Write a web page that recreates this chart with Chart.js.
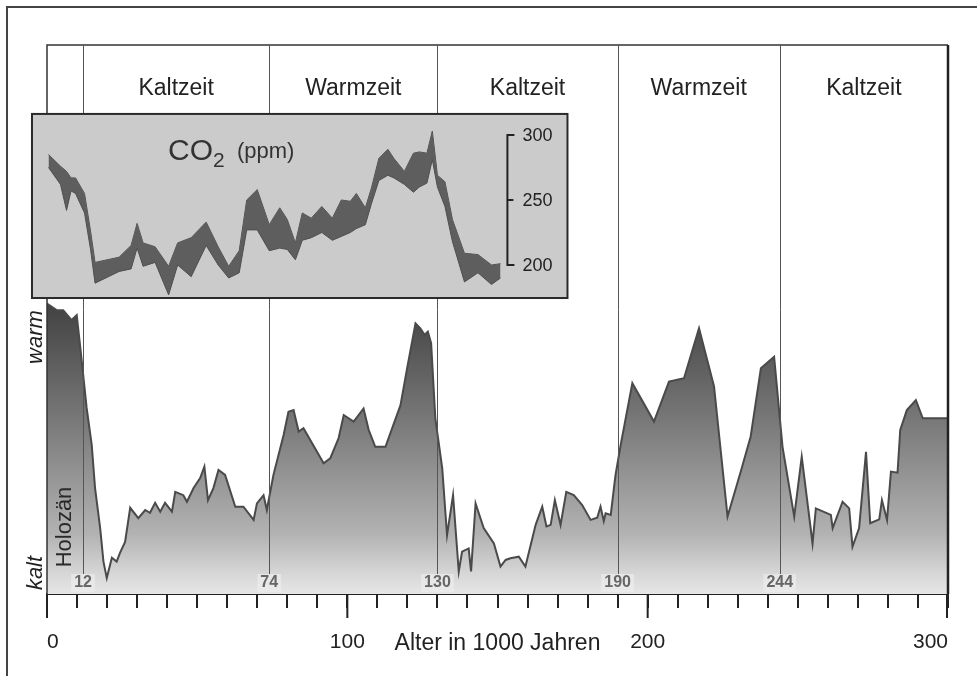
<!DOCTYPE html>
<html lang="de">
<head>
<meta charset="utf-8">
<title>Temperatur und CO2 – 300 000 Jahre</title>
<script src="https://cdn.jsdelivr.net/npm/chart.js@4"></script>
<style>
  html, body { margin: 0; padding: 0; background: #fff; overflow: hidden; }
  canvas { display: block; }
</style>
</head>
<body>
<canvas id="climateChart" width="977" height="676"></canvas>
<script>
// Alter in 1000 Jahren / relativer Temperaturindex (0 = kalt, 100 = oberer Rand)
const tempAge = [
  0, 3.2, 5.4, 8.2, 9.9, 11.6, 13.2, 14.9, 16, 17.7,
  18.8, 19.9, 21.6, 23.2, 24.3, 26, 27.7, 30.4, 32.7, 34.3,
  36, 37.7, 39.3, 41.6, 42.7, 45.4, 46.6, 48.8, 51, 52.4,
  53.6, 55.4, 57.1, 59.3, 62.7, 65.4, 68.8, 69.9, 72.1, 73.2,
  75.4, 78.8, 80.4, 82.1, 83.8, 85.4, 92.1, 94.3, 97.1, 98.8,
  102.1, 105.4, 107.1, 109.3, 112.7, 117.7, 119.9, 122.7, 124.3, 125.7,
  126.8, 127.9, 129.3, 131.6, 133.2, 135.2, 137.1, 138.2, 140.4, 141.2,
  142.7, 145.4, 148.8, 151, 152.7, 154.3, 157.1, 159.3, 162.7, 164.9,
  166.3, 167.7, 169.1, 171, 172.9, 175.4, 178.2, 181, 183.2, 184.3,
  185.4, 186, 187.7, 189.3, 191, 194.9, 202.1, 207.1, 212.1, 217.1,
  222.1, 226.6, 231, 234.3, 237.7, 242.1, 244.9, 248.8, 251.3, 254.9,
  256, 261, 261.6, 264.9, 267.1, 268.2, 270.4, 272.7, 274.1, 277.1,
  278, 279.7, 281, 283.2, 284.1, 286.3, 289.3, 291.6, 300,
];
const tempIndex = [
  52.9, 51.7, 51.7, 49.9, 50.8, 42.3, 33.9, 27.1, 19.3, 12.0,
  5.9, 2.9, 6.6, 5.9, 7.5, 9.5, 15.7, 13.8, 15.3, 14.8,
  16.6, 15.0, 16.6, 15.0, 18.6, 18.0, 16.8, 19.3, 21.1, 23.2,
  17.1, 19.3, 22.6, 21.7, 15.9, 15.9, 13.5, 16.5, 18.0, 15.3,
  21.7, 29.0, 33.2, 33.5, 29.6, 30.2, 23.8, 24.7, 28.4, 32.6,
  31.4, 33.8, 29.9, 26.8, 26.8, 34.4, 41.1, 49.3, 48.4, 47.2,
  47.8, 45.7, 32.0, 22.9, 10.7, 18.0, 4.1, 7.7, 8.3, 4.1,
  16.5, 12.0, 9.2, 5.0, 6.2, 6.5, 6.8, 5.0, 12.6, 15.9,
  12.3, 12.6, 17.1, 12.6, 18.6, 18.0, 16.2, 13.5, 13.9, 15.9,
  13.3, 14.7, 14.4, 21.7, 27.1, 38.4, 31.4, 38.7, 39.3, 48.4,
  37.8, 14.1, 22.3, 28.7, 41.1, 43.2, 26.8, 14.1, 25.0, 9.2,
  15.6, 14.4, 12.0, 16.8, 15.6, 8.6, 12.0, 25.9, 12.9, 13.6,
  17.1, 13.5, 22.3, 22.1, 29.9, 33.5, 35.3, 32.0, 32.0,
];

// CO2-Band (ppm): obere und untere Grenze
const co2Age = [
  0.5, 4.5, 6.5, 8, 9.5, 12.5, 14.5, 16, 24, 28,
  30, 32, 36, 40.5, 43.5, 48, 53, 57, 60.5, 64,
  66.5, 70, 74, 77.5, 80, 82.7, 85, 88, 91.5, 95,
  98, 101, 103, 106, 108, 110.5, 113.5, 115.5, 119, 122,
  124, 126.5, 128.3, 130, 132.5, 135, 139, 143.5, 148, 151,
];
const co2High = [
  285, 276, 272, 267, 267, 255, 226, 202, 206, 215,
  232, 217, 214, 199, 217, 221, 233, 214, 199, 211,
  250, 258, 231, 244, 235, 217, 240, 236, 245, 236,
  250, 249, 255, 244, 259, 282, 289, 282, 272, 286,
  287, 286, 303, 269, 264, 235, 209, 208, 200, 201,
];
const co2Low = [
  275, 262, 242, 257, 255, 240, 212, 186, 195, 197,
  213, 199, 202, 177, 200, 191, 215, 200, 190, 194,
  227, 227, 211, 213, 212, 204, 219, 221, 225, 219,
  222, 225, 228, 231, 247, 265, 269, 267, 262, 256,
  260, 263, 281, 260, 245, 218, 187, 194, 185, 190,
];

const periodBounds = [12, 74, 130, 190, 244, 300];
const periodNames = ["Kaltzeit", "Warmzeit", "Kaltzeit", "Warmzeit", "Kaltzeit"];
const xTickLabels = [0, 100, 200, 300];
const co2Ticks = [200, 250, 300];

const FONT = '"Liberation Sans", Arial, Helvetica, sans-serif';

document.addEventListener("DOMContentLoaded", () => {
  const toPoints = (xs, ys) => xs.map((x, i) => ({ x: x, y: ys[i] }));

  // Verlauf dunkel (warm) -> hell (kalt)
  const tempFill = (context) => {
    const chart = context.chart;
    const area = chart.chartArea;
    if (!area) return "#888";
    const top = chart.scales.y.getPixelForValue(55);
    const g = chart.ctx.createLinearGradient(0, top, 0, area.bottom);
    g.addColorStop(0, "#3c3c3c");
    g.addColorStop(0.45, "#7c7c7c");
    g.addColorStop(0.8, "#b2b2b2");
    g.addColorStop(0.93, "#d6d6d6");
    g.addColorStop(1, "#e6e6e6");
    return g;
  };

  const decor = {
    id: "decor",
    beforeDraw(chart) {
      const ctx = chart.ctx;
      ctx.save();
      ctx.fillStyle = "#fff";
      ctx.fillRect(0, 0, chart.width, chart.height);
      ctx.strokeStyle = "#444";
      ctx.lineWidth = 2;
      ctx.strokeRect(7, 7, chart.width + 20, chart.height + 20);
      ctx.restore();
    },
    afterDatasetDraw(chart, args) {
      if (args.index !== 0) return;
      const ctx = chart.ctx;
      const a = chart.chartArea;
      const xs = chart.scales.x;
      ctx.save();
      // Rahmen des Diagramms
      ctx.strokeStyle = "#333";
      ctx.lineWidth = 1.5;
      ctx.beginPath();
      ctx.moveTo(a.left, a.bottom);
      ctx.lineTo(a.left, a.top);
      ctx.lineTo(a.right, a.top);
      ctx.stroke();
      ctx.lineWidth = 2.5;
      ctx.strokeStyle = "#222";
      ctx.beginPath();
      ctx.moveTo(a.right, a.top);
      ctx.lineTo(a.right, a.bottom);
      ctx.stroke();
      // Grenzen der Warm-/Kaltzeiten
      ctx.strokeStyle = "#555";
      ctx.lineWidth = 1;
      periodBounds.slice(0, -1).forEach((b) => {
        const px = Math.round(xs.getPixelForValue(b)) + 0.5;
        ctx.beginPath();
        ctx.moveTo(px, a.top);
        ctx.lineTo(px, a.bottom - 20);
        ctx.stroke();
      });
      ctx.font = "bold 16px " + FONT;
      ctx.textAlign = "center";
      ctx.textBaseline = "middle";
      periodBounds.slice(0, -1).forEach((b) => {
        const px = xs.getPixelForValue(b);
        const w = ctx.measureText(String(b)).width;
        ctx.fillStyle = "rgba(236,236,236,0.7)";
        ctx.fillRect(px - w / 2 - 3, a.bottom - 20, w + 6, 18);
        ctx.fillStyle = "#666";
        ctx.fillText(String(b), px, a.bottom - 11);
      });
      ctx.translate(65, 527);
      ctx.rotate(-Math.PI / 2);
      ctx.fillStyle = "#2a2a2a";
      ctx.font = "22px " + FONT;
      ctx.fillText("Holozän", 0, 0);
      ctx.restore();
    },
    beforeDatasetDraw(chart, args) {
      if (args.index !== 1) return;
      const ctx = chart.ctx;
      const xs = chart.scales.x;
      const cs = chart.scales.co2;
      const l = xs.getPixelForValue(-5);
      const r = xs.getPixelForValue(173.3);
      const t = cs.getPixelForValue(316.2);
      const b = cs.getPixelForValue(174.6);
      ctx.save();
      ctx.fillStyle = "#cbcbcb";
      ctx.fillRect(l, t, r - l, b - t);
      ctx.strokeStyle = "#2a2a2a";
      ctx.lineWidth = 2;
      ctx.strokeRect(l, t, r - l, b - t);
      // Titel
      ctx.fillStyle = "#333";
      ctx.textBaseline = "alphabetic";
      ctx.textAlign = "left";
      ctx.font = "30px " + FONT;
      ctx.fillText("CO", 168, 160);
      const coW = ctx.measureText("CO").width;
      ctx.font = "21px " + FONT;
      ctx.fillText("2", 168 + coW, 167);
      ctx.font = "22px " + FONT;
      ctx.fillText("(ppm)", 237, 158);
      // ppm-Achse
      const ax = xs.getPixelForValue(153.3);
      const yTop = cs.getPixelForValue(co2Ticks[co2Ticks.length - 1]);
      const yBot = cs.getPixelForValue(co2Ticks[0]);
      ctx.strokeStyle = "#222";
      ctx.lineWidth = 2;
      ctx.beginPath();
      ctx.moveTo(ax + 7, yTop);
      ctx.lineTo(ax, yTop);
      ctx.lineTo(ax, yBot);
      ctx.lineTo(ax + 7, yBot);
      ctx.stroke();
      ctx.font = "18px " + FONT;
      ctx.textBaseline = "middle";
      ctx.fillStyle = "#222";
      co2Ticks.forEach((v) => {
        const py = cs.getPixelForValue(v);
        ctx.beginPath();
        ctx.moveTo(ax, py);
        ctx.lineTo(ax + 6, py);
        ctx.stroke();
        ctx.fillText(String(v), ax + 15, py + 1);
      });
      ctx.restore();
    },
    afterDraw(chart) {
      const ctx = chart.ctx;
      const a = chart.chartArea;
      const xs = chart.scales.x;
      ctx.save();
      // Kopfzeile mit den Zeitaltern
      ctx.fillStyle = "#222";
      ctx.font = "23px " + FONT;
      ctx.textAlign = "center";
      ctx.textBaseline = "middle";
      periodNames.forEach((name, i) => {
        const mid = (periodBounds[i] + periodBounds[i + 1]) / 2;
        ctx.fillText(name, xs.getPixelForValue(mid), 89);
      });
      // lange Teilstriche bei 0/100/200/300
      ctx.strokeStyle = "#222";
      ctx.lineWidth = 2;
      xTickLabels.forEach((v) => {
        const px = Math.min(xs.getPixelForValue(v), a.right - 1);
        ctx.beginPath();
        ctx.moveTo(px, a.bottom);
        ctx.lineTo(px, a.bottom + 24);
        ctx.stroke();
      });
      // warm / kalt
      ctx.font = "italic 22px " + FONT;
      [["warm", 337], ["kalt", 573]].forEach(([txt, y]) => {
        ctx.save();
        ctx.translate(36, y);
        ctx.rotate(-Math.PI / 2);
        ctx.fillText(txt, 0, 0);
        ctx.restore();
      });
      ctx.restore();
    },
  };

  const ctx = document.getElementById("climateChart");
  new Chart(ctx, {
    type: "line",
    data: {
      datasets: [
        {
          label: "Temperatur",
          data: toPoints(tempAge, tempIndex),
          yAxisID: "y",
          fill: "start",
          backgroundColor: tempFill,
          borderColor: "#4a4a4a",
          borderWidth: 2,
          pointRadius: 0,
          tension: 0,
          order: 3,
        },
        {
          label: "CO2 max",
          data: toPoints(co2Age, co2High),
          yAxisID: "co2",
          fill: false,
          borderColor: "#4f4f4f",
          borderWidth: 1,
          pointRadius: 0,
          order: 2,
        },
        {
          label: "CO2 min",
          data: toPoints(co2Age, co2Low),
          yAxisID: "co2",
          fill: "-1",
          backgroundColor: "#5e5e5e",
          borderColor: "#4f4f4f",
          borderWidth: 1,
          pointRadius: 0,
          order: 1,
        },
      ],
    },
    options: {
      responsive: false,
      animation: false,
      devicePixelRatio: 1,
      layout: { padding: { left: 47, right: 29, top: 45, bottom: 18.2 } },
      plugins: {
        legend: { display: false },
        tooltip: { enabled: false },
      },
      scales: {
        x: {
          type: "linear",
          min: 0,
          max: 300,
          z: 1,
          border: { display: true, color: "#222", width: 2 },
          grid: {
            display: true,
            drawOnChartArea: false,
            drawTicks: true,
            tickLength: 14,
            color: "#222",
            lineWidth: 2,
          },
          ticks: {
            stepSize: 10,
            autoSkip: false,
            maxRotation: 0,
            align: "inner",
            padding: 22,
            color: "#222",
            font: { family: FONT, size: 21 },
            callback: (v) => (xTickLabels.includes(v) ? String(v) : ""),
          },
          title: {
            display: true,
            text: "Alter in 1000 Jahren",
            color: "#222",
            font: { family: FONT, size: 23 },
            padding: { top: -47, bottom: 0 },
          },
        },
        y: { display: false, min: 0, max: 100 },
        co2: { display: false, min: -53.08, max: 369.23 },
      },
    },
    plugins: [decor],
  });
});
</script>
</body>
</html>
